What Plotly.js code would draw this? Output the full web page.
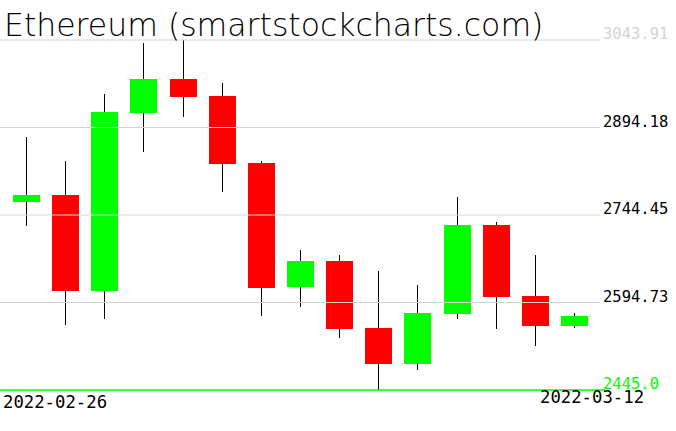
<!DOCTYPE html>
<html>
<head>
<meta charset="utf-8">
<script src="https://cdn.plot.ly/plotly-3.0.1.min.js"></script>
<style>html,body{margin:0;padding:0;background:#fff;}#chart{width:676px;height:431px;}</style>
</head>
<body>
<div id="chart"></div>
<script>
const dates = ["2022-02-26","2022-02-27","2022-02-28","2022-03-01","2022-03-02","2022-03-03","2022-03-04","2022-03-05","2022-03-06","2022-03-07","2022-03-08","2022-03-09","2022-03-10","2022-03-11","2022-03-12"];
const openP  = [2767.2, 2778.7, 2614.9, 2919.5, 2977.2, 2948.1, 2833.4, 2621.3, 2665.7, 2551.1, 2490.0, 2575.6, 2727.3, 2605.9, 2555.0];
const closeP = [2778.7, 2614.9, 2921.2, 2977.2, 2946.9, 2832.2, 2620.1, 2665.7, 2549.9, 2490.0, 2576.8, 2727.3, 2604.7, 2555.0, 2571.6];
const highP  = [2877.9, 2836.9, 2951.5, 3038.8, 3043.91, 2970.3, 2836.9, 2684.6, 2675.5, 2648.6, 2624.7, 2775.3, 2732.5, 2676.0, 2576.8];
const lowP   = [2725.6, 2556.7, 2567.0, 2852.8, 2912.7, 2784.3, 2572.1, 2587.5, 2534.5, 2445.0, 2479.2, 2567.0, 2549.9, 2520.8, 2551.6];
const tickVals = [2445.0, 2594.73, 2744.45, 2894.18, 3043.91];
const tickText = ["2445.0", "2594.73", "2744.45", "2894.18", "3043.91"];
const titleText = "Ethereum (smartstockcharts.com)";

const UP = "#00ff00", DOWN = "#ff0000", GRID = "#d3d3d3";
const idx = dates.map((d, i) => i);
const minLow = Math.min(...lowP), maxHigh = Math.max(...highP);
const pad = (maxHigh - minLow) / 350 * 2; // two pixels of headroom

const wicks = {
  type: "bar", x: idx, base: lowP, y: highP.map((h, i) => h - lowP[i]),
  width: 0.026, marker: {color: "#000000", line: {width: 0}}, hoverinfo: "skip", showlegend: false
};
const bodies = {
  type: "bar", x: idx,
  base: openP.map((o, i) => Math.min(o, closeP[i])),
  y: openP.map((o, i) => Math.abs(closeP[i] - o)),
  width: 0.69,
  marker: {color: openP.map((o, i) => closeP[i] >= o ? UP : DOWN), line: {width: 0}},
  showlegend: false
};

const shapes = tickVals.slice(1).map(v => ({
  type: "line", layer: "above", xref: "paper", yref: "y", x0: 0, x1: 1, y0: v, y1: v,
  line: {color: GRID, width: 1}
}));
shapes.push({type: "line", layer: "above", xref: "paper", yref: "y", x0: 0, x1: 1.008, y0: minLow, y1: minLow,
  line: {color: UP, width: 1.5}});

const labelColors = tickVals.map((v, i) => i === 0 ? UP : (i === tickVals.length - 1 ? GRID : "#000000"));
const annotations = tickVals.map((v, i) => ({
  xref: "paper", yref: "y", x: 1.002, y: v, xanchor: "left", yanchor: "bottom", yshift: -5,
  text: tickText[i], showarrow: false,
  font: {family: "DejaVu Sans Mono", size: 15.5, color: labelColors[i]}
}));
annotations.push({xref: "paper", yref: "y", x: 0.002, y: minLow, xanchor: "left", yanchor: "top", yshift: 0,
  text: dates[0], showarrow: false, font: {family: "DejaVu Sans Mono", size: 17.3, color: "#000"}});
annotations.push({xref: "paper", yref: "y", x: 1.0767, y: minLow, xanchor: "right", yanchor: "top", yshift: 5,
  text: dates[dates.length - 1], showarrow: false, font: {family: "DejaVu Sans Mono", size: 17.3, color: "#000"}});
annotations.push({xref: "paper", yref: "y", x: 0.003, y: maxHigh, xanchor: "left", yanchor: "bottom", yshift: -5,
  text: titleText, showarrow: false, font: {family: "DejaVu Sans", size: 31.5, weight: 200, color: "#000"}});

const layout = {
  width: 676, height: 431,
  margin: {l: 0, r: 76, t: 38, b: 39, pad: 0},
  paper_bgcolor: "#ffffff", plot_bgcolor: "#ffffff",
  barmode: "overlay", bargap: 0, bargroupgap: 0,
  xaxis: {range: [-0.677, 14.652], visible: false, fixedrange: true},
  yaxis: {range: [minLow - pad, maxHigh + pad], visible: false, fixedrange: true},
  shapes: shapes, annotations: annotations, showlegend: false
};
Plotly.newPlot("chart", [wicks, bodies], layout, {displayModeBar: false, staticPlot: true});
</script>
</body>
</html>
